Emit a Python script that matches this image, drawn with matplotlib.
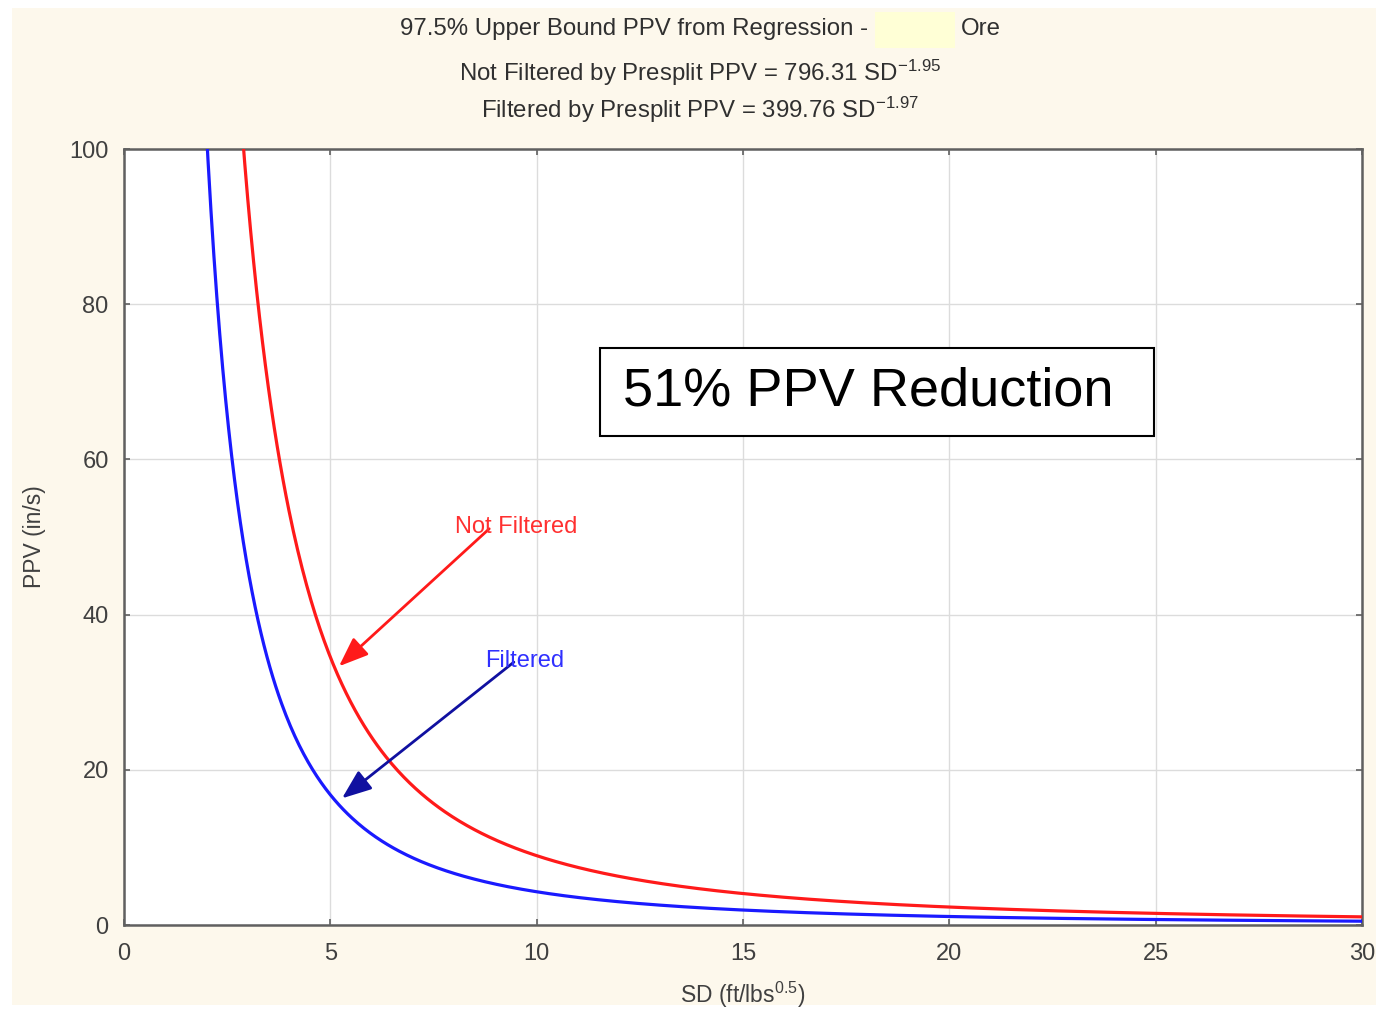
import numpy as np
import matplotlib
matplotlib.use("Agg")
import matplotlib.pyplot as plt
from matplotlib.patches import Rectangle

plt.rcParams["font.family"] = ["Liberation Sans", "DejaVu Sans"]
plt.rcParams["mathtext.default"] = "regular"

# Regression fits: PPV = coeff * SD^exponent
series_names = ["Not Filtered", "Filtered"]
coefficients = [796.31, 399.76]
exponents = [-1.95, -1.97]
series_colors = ["#ff1a1a", "#1a1aff"]

x_ticks = [0, 5, 10, 15, 20, 25, 30]
y_ticks = [0, 20, 40, 60, 80, 100]

W, H = 1376, 1009
fig = plt.figure(figsize=(W / 100, H / 100), dpi=100)
fig.patch.set_facecolor("white")
fig.patches.append(Rectangle((12 / W, 4 / H), 1 - 12 / W, 1 - 12 / H,
                             transform=fig.transFigure, facecolor="#fdf8ec",
                             edgecolor="none", zorder=-10))

ax = fig.add_axes([124 / W, 1 - 925 / H, (1362 - 124) / W, (925 - 149) / H])
ax.set_zorder(2)
ax.set_facecolor("white")

sd = np.linspace(1.5, 30, 800)
for name, c, e, col in zip(series_names, coefficients, exponents, series_colors):
    ax.plot(sd, c * sd ** e, color=col, lw=2.3, zorder=3)

ax.set_xlim(0, 30)
ax.set_ylim(0, 100)
ax.set_xticks(x_ticks)
ax.set_yticks(y_ticks)
ax.grid(True, color="#dcdcdc", lw=1.0)
ax.set_axisbelow(True)
for s in ax.spines.values():
    s.set_color("#606060")
    s.set_linewidth(1.8)
ax.tick_params(direction="in", length=4, width=1.2, color="#606060",
               top=True, right=True, labelsize=17, labelcolor="#404040")
ax.tick_params(axis="x", pad=13)
ax.tick_params(axis="y", pad=11)

ax.set_xlabel("SD (ft/lbs$^{0.5}$)", fontsize=16.5, color="#404040", va="center")
ax.xaxis.set_label_coords(0.5, -(995 - 925) / 776)
ax.set_ylabel("PPV (in/s)", fontsize=16.5, color="#404040", va="center")
ax.yaxis.set_label_coords(-(124 - 35) / 1238, 0.5)

# Title block
title_kw = dict(va="center", fontsize=17.3, color="#303030")
fig.text(868 / W, 1 - 29 / H, "97.5% Upper Bound PPV from Regression -", ha="right", **title_kw)
fig.patches.append(Rectangle((875 / W, 1 - 48 / H), 80 / W, 36 / H,
                             transform=fig.transFigure, facecolor="#ffffd6",
                             edgecolor="none", zorder=1))
fig.text(961 / W, 1 - 29 / H, "Ore", ha="left", **title_kw)
fig.text(700 / W, 1 - 73 / H, "Not Filtered by Presplit PPV = 796.31 SD$^{-1.95}$",
         ha="center", **title_kw)
fig.text(700 / W, 1 - 110 / H, "Filtered by Presplit PPV = 399.76 SD$^{-1.97}$",
         ha="center", **title_kw)

# Annotation box
ax.add_patch(Rectangle(((600 - 124) / 1238, (925 - 436) / 776), 554 / 1238, 88 / 776,
                       transform=ax.transAxes, facecolor="white", edgecolor="black",
                       lw=1.5, zorder=4))
ax.text((868 - 124) / 1238, (925 - 392) / 776, "51% PPV Reduction", transform=ax.transAxes,
        ha="center", va="center", fontsize=39, color="black", zorder=5)

# Curve labels with arrows
arrow_style = "-|>,head_length=1.8,head_width=0.7"
ax.annotate("", xy=(5.16, 33.1), xytext=(8.9, 51.3),
            arrowprops=dict(arrowstyle=arrow_style, color="#ff1a1a", lw=2), zorder=4)
ax.text(9.5, 51.3, "Not Filtered", ha="center", va="center", fontsize=17,
        color="#ff3030", zorder=5)
ax.annotate("", xy=(5.23, 16.1), xytext=(9.5, 34.1),
            arrowprops=dict(arrowstyle=arrow_style, color="#1010a0", lw=2), zorder=4)
ax.text(9.7, 34.0, "Filtered", ha="center", va="center", fontsize=17,
        color="#3030ff", zorder=5)

fig.savefig("out.png", dpi=100, facecolor=fig.get_facecolor())
